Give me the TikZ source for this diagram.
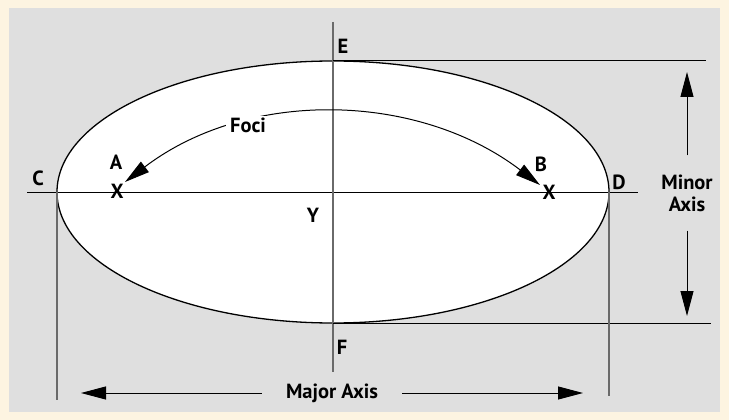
\documentclass[tikz,border=0pt]{standalone}
\usepackage{fontspec}
\setmainfont{PT Sans}
\usepackage{xcolor}
\usetikzlibrary{arrows.meta}

\definecolor{paper}{HTML}{FDF4E1}
\definecolor{panel}{HTML}{DFDFDF}
\definecolor{guide}{HTML}{6A6A6A}

\tikzset{
    lbl/.style={font=\bfseries\fontsize{20.5}{22}\selectfont, inner sep=0pt},
    bigarrow/.style={-{Triangle[length=25pt,width=13pt]}, line width=1pt},
}

\begin{document}
\begin{tikzpicture}[x=1pt,y=-1pt]
    % Background
    \fill[paper] (0,0) rectangle (729,420);
    \fill[panel] (9,8) rectangle (720,412);
    \useasboundingbox (0,0) rectangle (729,420);

    % Ellipse
    \draw[fill=white, line width=1.3pt] (333,192) ellipse [x radius=276, y radius=131];

    % Axes
    \coordinate (axL) at (27,192);
    \coordinate (axR) at (638,192);
    \coordinate (axT) at (333,22);
    \coordinate (axB) at (333,372);
    \draw[line width=1pt] (axL) -- (axR);
    \draw[guide, line width=1.2pt] (axT) -- (axB);

    % Tangents at E and F
    \coordinate (Etop) at (333,61);
    \coordinate (Eend) at (706,61);
    \coordinate (Fbot) at (333,323);
    \coordinate (Fend) at (711,323);
    \draw[line width=1pt] (Etop) -- (Eend);
    \draw[line width=1pt] (Fbot) -- (Fend);

    % Extension lines at C and D
    \coordinate (Cpt) at (57,192);
    \coordinate (Cend) at (57,400);
    \coordinate (Dpt) at (609,192);
    \coordinate (Dend) at (609,396);
    \draw[guide, line width=1.2pt] (Cpt) -- (Cend);
    \draw[guide, line width=1.2pt] (Dpt) -- (Dend);

    % Point labels
    \node[lbl] (C) at (38,178) {C};
    \node[lbl] (D) at (619,182) {D};
    \node[lbl] (E) at (343,46) {E};
    \node[lbl] (F) at (342,347) {F};
    \node[lbl] (A) at (116,162) {A};
    \node[lbl] (B) at (541,164) {B};
    \node[lbl] (XA) at (117,191) {X};
    \node[lbl] (XB) at (549,192) {X};
    \node[lbl] (Y) at (313,215) {Y};

    % Foci
    \coordinate (fA) at (125,182);
    \coordinate (fB) at (540,185);
    \draw[{Triangle[length=25pt,width=13pt]}-{Triangle[length=25pt,width=13pt]}, line width=1pt]
        (fA) .. controls (247.5,88.7) and (417.5,91.7) .. (fB);
    \node[lbl, fill=white, inner xsep=4pt, inner ysep=2pt] (foci) at (248,125) {Foci};

    % Major axis
    \coordinate (majL) at (81,393);
    \coordinate (majR) at (583,393);
    \node[lbl, inner xsep=24pt] (major) at (332,393) {Major Axis};
    \draw[bigarrow] (major) -- (majL);
    \draw[bigarrow] (major) -- (majR);

    % Minor axis
    \coordinate (minT) at (687,72);
    \coordinate (minB) at (687,316);
    \node[lbl, align=center, inner ysep=19pt] (minor) at (687,193) {Minor\\Axis};
    \draw[bigarrow] (minor) -- (minT);
    \draw[bigarrow] (minor) -- (minB);
\end{tikzpicture}
\end{document}
